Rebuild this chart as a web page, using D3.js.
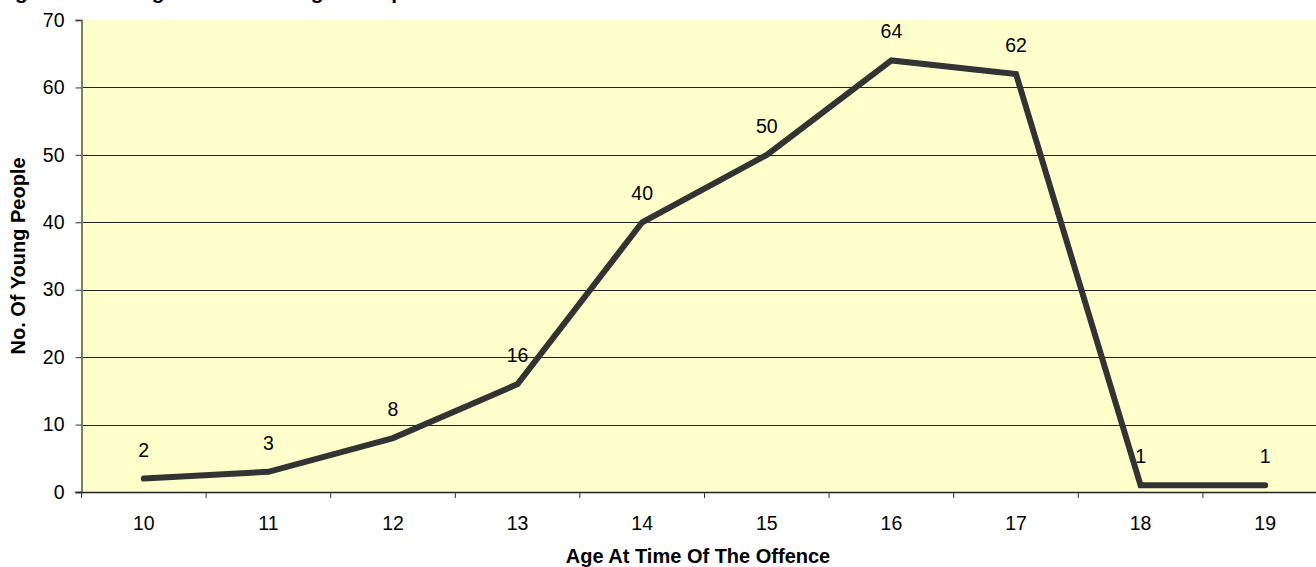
<!DOCTYPE html>
<html>
<head>
<meta charset="utf-8">
<script src="https://cdn.jsdelivr.net/npm/d3@7"></script>
<style>
  html, body { margin: 0; padding: 0; background: #fff; overflow: hidden; }
  svg { display: block; font-family: Arial, "Liberation Sans", sans-serif; }
</style>
</head>
<body>
<svg id="chart" width="1316" height="567"></svg>
<script>
// ── Data ──────────────────────────────────────────────────────────────────
const ages = ['10', '11', '12', '13', '14', '15', '16', '17', '18', '19'];
const counts = [2, 3, 8, 16, 40, 50, 64, 62, 1, 1];
const yTicks = [0, 10, 20, 30, 40, 50, 60, 70];

const titleText = 'Young People Among All Offending Within Each Age Group';
const xTitle = 'Age At Time Of The Offence';
const yTitle = 'No. Of Young People';

// ── Layout ────────────────────────────────────────────────────────────────
const svg = d3.select('#chart');
const plot = { left: 81.5, top: 20, right: 1327.5, bottom: 492 };
const FONT = 'Arial, "Liberation Sans", sans-serif';
const fs = 19.5;

const x = d3.scaleBand().domain(ages).range([plot.left, plot.right]);
const y = d3.scaleLinear().domain([0, 70]).range([plot.bottom, plot.top]);

// Plot background
svg.append('rect')
  .attr('x', plot.left).attr('y', plot.top)
  .attr('width', plot.right - plot.left).attr('height', plot.bottom - plot.top)
  .attr('fill', '#ffffcc');

// Gridlines
svg.append('g')
  .selectAll('line')
  .data(yTicks.filter(t => t > 0 && t < 70))
  .join('line')
  .attr('x1', plot.left).attr('x2', plot.right)
  .attr('y1', d => Math.round(y(d)) + 0.5).attr('y2', d => Math.round(y(d)) + 0.5)
  .attr('stroke', '#222').attr('stroke-width', 1);

// Y axis
const yAxis = svg.append('g')
  .attr('transform', `translate(${plot.left},0)`)
  .call(d3.axisLeft(y).tickValues(yTicks).tickSize(6).tickPadding(11));
yAxis.select('.domain').attr('stroke', '#808060').attr('stroke-width', 2);
yAxis.selectAll('.tick line').attr('stroke', '#333');
yAxis.selectAll('.tick text').attr('font-size', fs).attr('fill', '#000')
  .attr('font-family', FONT);

// X axis (ticks at category boundaries)
const xAxis = svg.append('g')
  .attr('transform', `translate(0,${plot.bottom})`);
xAxis.append('line')
  .attr('x1', plot.left - 6).attr('x2', plot.right)
  .attr('y1', 0.5).attr('y2', 0.5)
  .attr('stroke', '#222').attr('stroke-width', 1.5);
xAxis.selectAll('line.tk')
  .data(ages)
  .join('line')
  .attr('class', 'tk')
  .attr('x1', d => x(d)).attr('x2', d => x(d))
  .attr('y1', 0).attr('y2', 6)
  .attr('stroke', '#333');
xAxis.selectAll('text')
  .data(ages)
  .join('text')
  .attr('x', d => x(d) + x.bandwidth() / 2)
  .attr('y', 38)
  .attr('text-anchor', 'middle')
  .attr('font-size', fs)
  .text(d => d);

// Line
const line = d3.line()
  .x((d, i) => x(ages[i]) + x.bandwidth() / 2)
  .y(d => y(d));

svg.append('path')
  .datum(counts)
  .attr('d', line)
  .attr('fill', 'none')
  .attr('stroke', '#333333')
  .attr('stroke-width', 6)
  .attr('stroke-linejoin', 'miter')
  .attr('stroke-linecap', 'round');

// Data labels
svg.append('g')
  .selectAll('text')
  .data(counts)
  .join('text')
  .attr('x', (d, i) => x(ages[i]) + x.bandwidth() / 2)
  .attr('y', d => y(d) - 22)
  .attr('text-anchor', 'middle')
  .attr('font-size', fs)
  .text(d => d);

// Titles
svg.append('text')
  .attr('x', 404).attr('y', -1)
  .attr('text-anchor', 'end')
  .attr('font-size', 21).attr('font-weight', 'bold')
  .text(titleText);

svg.append('text')
  .attr('x', 698).attr('y', 563)
  .attr('text-anchor', 'middle')
  .attr('font-size', 20).attr('font-weight', 'bold')
  .text(xTitle);

svg.append('text')
  .attr('transform', `translate(25,${(plot.top + plot.bottom) / 2}) rotate(-90)`)
  .attr('text-anchor', 'middle')
  .attr('font-size', 20).attr('font-weight', 'bold')
  .text(yTitle);
</script>
</body>
</html>
